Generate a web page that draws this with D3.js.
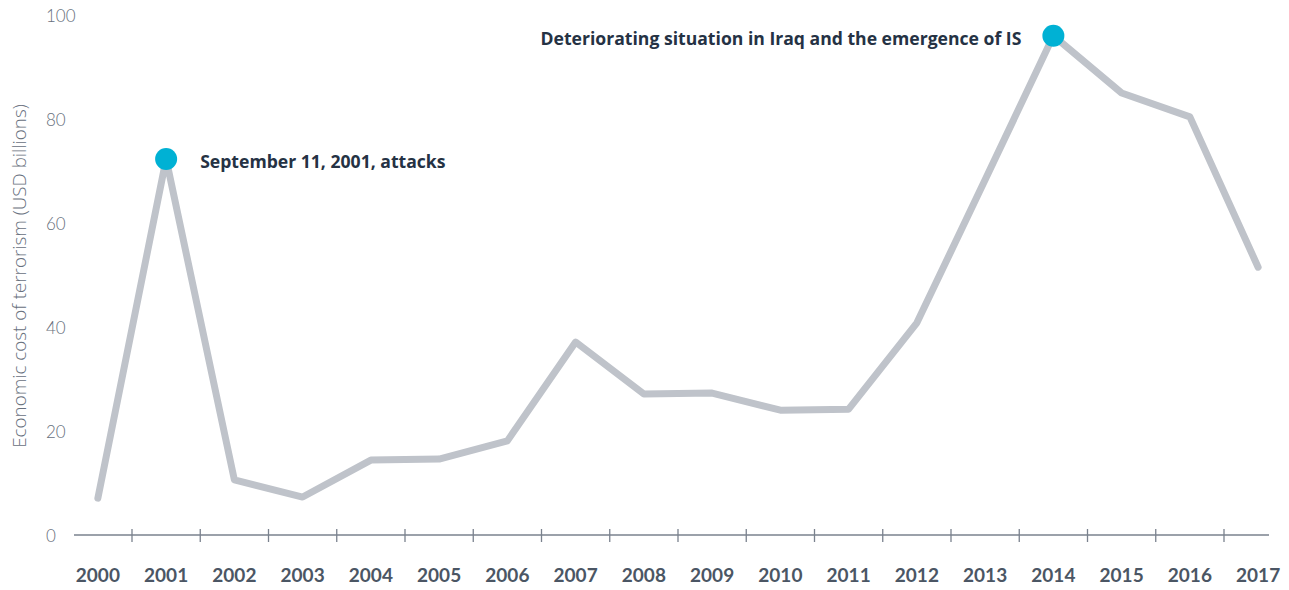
<!DOCTYPE html>
<html>
<head>
<meta charset="utf-8">
<script src="https://cdn.jsdelivr.net/npm/d3@7"></script>
<style>
  html, body { margin: 0; padding: 0; background: #fff; }
  svg { display: block; }
</style>
</head>
<body>
<svg id="chart" width="1289" height="590"></svg>
<script>
const years = ["2000","2001","2002","2003","2004","2005","2006","2007","2008","2009","2010","2011","2012","2013","2014","2015","2016","2017"];
const costValues = [7.1, 72.3, 10.6, 7.3, 14.4, 14.6, 18.1, 37.1, 27.1, 27.3, 24.0, 24.2, 40.8, 68.3, 96.0, 85.0, 80.4, 51.5];
const yTicks = [0, 20, 40, 60, 80, 100];
const annotations = [
  { year: "2001", text: "September 11, 2001, attacks", side: "right" },
  { year: "2014", text: "Deteriorating situation in Iraq and the emergence of IS", side: "left" }
];
const yTitle = "Economic cost of terrorism (USD billions)";

const svg = d3.select("#chart");
const x = d3.scaleBand().domain(years).range([63.75, 1292.25]);
const y = d3.scaleLinear().domain([0, 100]).range([535, 15]);
const cx = d => x(d) + x.bandwidth() / 2;

// axis line
svg.append("line")
  .attr("x1", 74).attr("x2", 1269)
  .attr("y1", y(0)).attr("y2", y(0))
  .attr("stroke", "#7a828e").attr("stroke-width", 1.3);

// tick marks at band boundaries
svg.selectAll(".tk").data(years.slice(1)).enter().append("line")
  .attr("x1", d => x(d)).attr("x2", d => x(d))
  .attr("y1", y(0) - 6).attr("y2", y(0) + 7)
  .attr("stroke", "#7a828e").attr("stroke-width", 1.3);

// x labels
svg.selectAll(".xl").data(years).enter().append("text")
  .attr("x", d => cx(d)).attr("y", 574)
  .attr("text-anchor", "middle").attr("dominant-baseline", "central")
  .style("font-family", "Lato, sans-serif").style("font-weight", 700)
  .style("font-size", "19px").style("fill", "#4b5664")
  .text(d => d);

// y labels
svg.selectAll(".yl").data(yTicks).enter().append("text")
  .attr("x", 46).attr("y", d => y(d))
  .attr("dominant-baseline", "central")
  .style("font-family", "Lato, sans-serif").style("font-weight", 300)
  .style("font-size", "17px").style("fill", "#68707d")
  .text(d => d);

// y title
svg.append("text")
  .attr("transform", "translate(19,276) rotate(-90)")
  .attr("text-anchor", "middle").attr("dominant-baseline", "central")
  .style("font-family", "'Open Sans', sans-serif").style("font-weight", 300)
  .style("font-size", "18.8px").style("fill", "#68707d")
  .text(yTitle);

// line
const line = d3.line().x((d, i) => cx(years[i])).y(d => y(d));
svg.append("path").datum(costValues)
  .attr("d", line).attr("fill", "none")
  .attr("stroke", "#bfc3ca").attr("stroke-width", 7)
  .attr("stroke-linejoin", "round").attr("stroke-linecap", "round");

// annotation dots + text
annotations.forEach(a => {
  const i = years.indexOf(a.year);
  const px = cx(a.year), py = y(costValues[i]);
  svg.append("circle").attr("cx", px).attr("cy", py).attr("r", 11).attr("fill", "#00b1d4");
  svg.append("text")
    .attr("x", a.side === "right" ? px + 34 : px - 32)
    .attr("y", py + 2)
    .attr("text-anchor", a.side === "right" ? "start" : "end")
    .attr("dominant-baseline", "central")
    .style("font-family", "'Open Sans', sans-serif").style("font-weight", 700)
    .style("font-size", "17.6px").style("fill", "#253244")
    .text(a.text);
});
</script>
</body>
</html>
